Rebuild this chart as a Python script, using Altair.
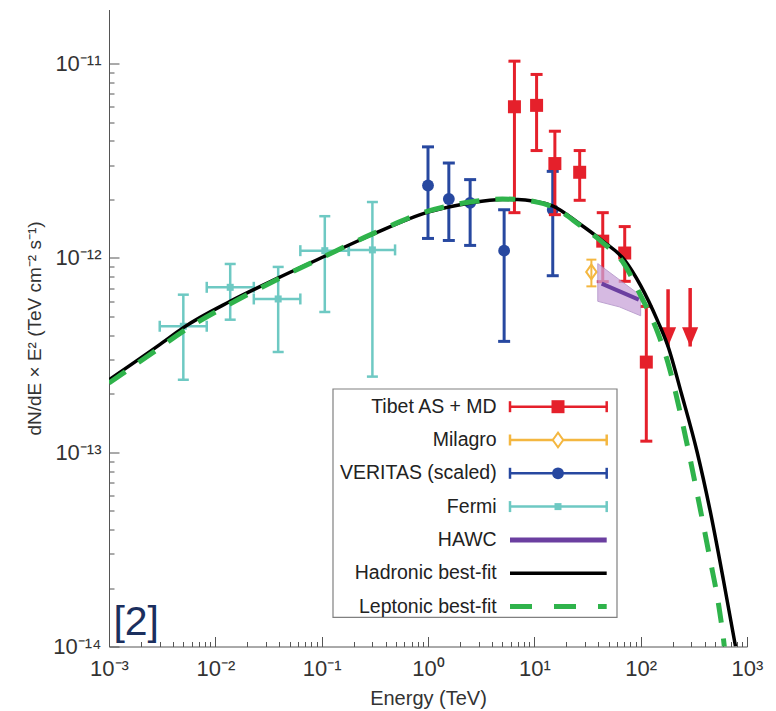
import altair as alt
import pandas as pd

FONT = "Liberation Sans"

# ---------------- data ----------------
fermi_E = [5.0e-3, 1.38e-2, 3.9e-2, 0.107, 0.30]
fermi_E_lo = [3.0e-3, 8.3e-3, 2.3e-2, 0.063, 0.18]
fermi_E_hi = [8.3e-3, 2.3e-2, 6.3e-2, 0.18, 0.49]
fermi_F = [4.45e-13, 7.06e-13, 6.15e-13, 1.09e-12, 1.10e-12]
fermi_F_lo = [2.36e-13, 4.81e-13, 3.28e-13, 5.27e-13, 2.45e-13]
fermi_F_hi = [6.47e-13, 9.31e-13, 8.99e-13, 1.64e-12, 1.94e-12]

veritas_E = [1.0, 1.57, 2.49, 5.2, 14.9]
veritas_F = [2.36e-12, 2.01e-12, 1.92e-12, 1.09e-12, 1.77e-12]
veritas_F_lo = [1.26e-12, 1.23e-12, 1.16e-12, 3.72e-13, 8.1e-13]
veritas_F_hi = [3.73e-12, 3.08e-12, 2.53e-12, 1.77e-12, 2.79e-12]

tibet_E = [6.5, 10.5, 15.6, 26.7, 44.0, 70.8, 113.0]
tibet_F = [6.0e-12, 6.1e-12, 3.06e-12, 2.76e-12, 1.22e-12, 1.06e-12, 2.91e-13]
tibet_F_lo = [1.71e-12, 3.57e-12, 1.67e-12, 1.98e-12, 7.55e-13, 7.58e-13, 1.14e-13]
tibet_F_hi = [1.03e-11, 8.8e-12, 4.49e-12, 3.57e-12, 1.71e-12, 1.45e-12, 5.63e-13]
tibet_ul_E = [181.0, 292.0]
tibet_ul_F = [6.9e-13, 7.0e-13]
tibet_ul_tip = [3.5e-13, 3.5e-13]

milagro_E = [34.4]
milagro_F = [8.47e-13]
milagro_F_lo = [7.14e-13]
milagro_F_hi = [9.8e-13]

hawc_line_E = [43.0, 96.0]
hawc_line_F = [7.38e-13, 6.1e-13]
hawc_band_E = [39.5, 63.0, 100.0]
hawc_band_hi = [9.35e-13, 7.73e-13, 6.4e-13]
hawc_band_lo = [5.98e-13, 5.6e-13, 5.04e-13]

hadronic_E = [1e-3, 3e-3, 5e-3, 1.38e-2, 3.9e-2, 0.107, 0.3, 1.0, 2.5, 5.0, 7.0, 10.0,
              15.0, 27.0, 44.0, 70.0, 100.0, 143.0, 181.0, 242.0, 340.0, 450.0, 600.0, 780.0]
hadronic_F = [2.36e-13, 3.58e-13, 4.38e-13, 5.98e-13, 7.89e-13, 1.02e-12, 1.32e-12, 1.72e-12,
              1.92e-12, 2.0e-12, 2.0e-12, 1.96e-12, 1.85e-12, 1.49e-12, 1.22e-12, 9.8e-13,
              7.2e-13, 4.8e-13, 3.5e-13, 2.0e-13, 1.0e-13, 5.0e-14, 2.2e-14, 1.0e-14]

leptonic_E = [1e-3, 3e-3, 5e-3, 1.38e-2, 3.9e-2, 0.107, 0.3, 1.0, 2.5, 5.0, 7.0, 10.0,
              15.0, 27.0, 44.0, 70.0, 100.0, 143.0, 180.0, 245.0, 300.0, 366.0, 450.0,
              540.0, 600.0, 640.0]
leptonic_F = [2.27e-13, 3.45e-13, 4.2e-13, 5.8e-13, 7.8e-13, 1.02e-12, 1.33e-12, 1.74e-12,
              1.94e-12, 2.01e-12, 2.0e-12, 1.95e-12, 1.83e-12, 1.47e-12, 1.2e-12, 9.3e-13,
              6.4e-13, 4.2e-13, 2.9e-13, 1.45e-13, 8.6e-14, 5.0e-14, 2.8e-14, 1.65e-14,
              1.1e-14, 8.0e-15]

x_tick_values = [1e-3, 1e-2, 1e-1, 1e0, 1e1, 1e2, 1e3]
x_tick_exps = [-3, -2, -1, 0, 1, 2, 3]
x_tick_labels = ["10⁻³", "10⁻²", "10⁻¹", "10⁰", "10¹", "10²", "10³"]
y_tick_values = [1e-14, 1e-13, 1e-12, 1e-11]
y_tick_exps = [-14, -13, -12, -11]
y_tick_labels = ["10⁻¹⁴", "10⁻¹³", "10⁻¹²", "10⁻¹¹"]
x_minor = [m * 10.0 ** k for k in range(-3, 3) for m in range(2, 10)]
y_minor = [m * 10.0 ** k for k in range(-14, -11) for m in range(2, 10)]

legend_labels = ["Tibet AS + MD", "Milagro", "VERITAS (scaled)", "Fermi", "HAWC",
                 "Hadronic best-fit", "Leptonic best-fit"]
annotation_text = ["[2]"]
annotation_E = [1.1e-3]
annotation_F = [1.15e-14]

# ---------------- styles ----------------
RED = "#e5202b"
ORANGE = "#f4b740"
BLUE = "#2748a0"
CYAN = "#6ec9c3"
PURPLE = "#6b3fa0"
GREEN = "#2fb34b"
BLACK = "#000000"
legend_colors = [RED, ORANGE, BLUE, CYAN, PURPLE, BLACK, GREEN]

W, H = 638, 637
xs = alt.Scale(type="log", domain=[1e-3, 1e3], nice=False)
ys = alt.Scale(type="log", domain=[1e-14, 1.9e-11], nice=False)


def X(f, axis=None):
    return alt.X(f, type="quantitative", scale=xs, axis=axis)


def Y(f, axis=None):
    return alt.Y(f, type="quantitative", scale=ys, axis=axis)


def label_expr(exps, labels):
    parts = [f"abs(log(datum.value)/LN10 - ({e})) < 0.01 ? '{l}'" for e, l in zip(exps, labels)]
    return " : ".join(parts) + " : ''"


fermi = pd.DataFrame(dict(E=fermi_E, Elo=fermi_E_lo, Ehi=fermi_E_hi, F=fermi_F,
                          Flo=fermi_F_lo, Fhi=fermi_F_hi))
veritas = pd.DataFrame(dict(E=veritas_E, F=veritas_F, Flo=veritas_F_lo, Fhi=veritas_F_hi))
tibet = pd.DataFrame(dict(E=tibet_E, F=tibet_F, Flo=tibet_F_lo, Fhi=tibet_F_hi))
tibet_ul = pd.DataFrame(dict(E=tibet_ul_E, F=tibet_ul_F, tip=tibet_ul_tip))
milagro = pd.DataFrame(dict(E=milagro_E, F=milagro_F, Flo=milagro_F_lo, Fhi=milagro_F_hi))
hawc_line = pd.DataFrame(dict(E=hawc_line_E, F=hawc_line_F))
hawc_band = pd.DataFrame(dict(E=hawc_band_E, hi=hawc_band_hi, lo=hawc_band_lo))
had = pd.DataFrame(dict(E=hadronic_E, F=hadronic_F))
lep = pd.DataFrame(dict(E=leptonic_E, F=leptonic_F))
ann = pd.DataFrame(dict(E=annotation_E, F=annotation_F, t=annotation_text))


def errbars(df, color, width, cap, marker):
    bar = alt.Chart(df).mark_rule(color=color, strokeWidth=width).encode(
        x=X("E"), y=Y("Flo"), y2="Fhi")
    caps = alt.Chart(df).transform_fold(["Flo", "Fhi"], as_=["k", "v"]).mark_tick(
        orient="horizontal", color=color, size=cap, thickness=width, opacity=1).encode(
        x=X("E"), y=Y("v"))
    pts = alt.Chart(df).mark_point(**marker).encode(x=X("E"), y=Y("F"))
    return [bar, caps, pts]


layers = []

# Fermi (with horizontal bars)
layers.append(alt.Chart(fermi).mark_rule(color=CYAN, strokeWidth=2.5).encode(
    x=X("Elo"), x2="Ehi", y=Y("F")))
layers.append(alt.Chart(fermi).transform_fold(["Elo", "Ehi"], as_=["k", "v"]).mark_tick(
    orient="vertical", color=CYAN, size=11, thickness=2.5, opacity=1).encode(
    x=X("v"), y=Y("F")))
layers += errbars(fermi, CYAN, 2.5, 11, dict(shape="square", filled=True, color=CYAN,
                                             size=49, opacity=1))
# VERITAS
layers += errbars(veritas, BLUE, 3, 12, dict(shape="circle", filled=True, color=BLUE,
                                            size=140, opacity=1))
# Tibet
layers += errbars(tibet, RED, 3, 12, dict(shape="square", filled=True, color=RED,
                                         size=169, opacity=1))
layers.append(alt.Chart(tibet_ul).mark_rule(color=RED, strokeWidth=3.5).encode(
    x=X("E"), y=Y("F"), y2="tip"))
layers.append(alt.Chart(tibet_ul).mark_point(
    shape="M-1,-2.4L1,-2.4L0,0Z", filled=True, color=RED, size=260, opacity=1).encode(
    x=X("E"), y=Y("tip")))
# Milagro
layers += errbars(milagro, ORANGE, 2, 10, dict(shape="M0,-1.2L0.85,0L0,1.2L-0.85,0Z",
                                              filled=False, color=ORANGE,
                                              size=150, strokeWidth=2, opacity=1))
# HAWC
layers.append(alt.Chart(hawc_band).mark_area(
    color="#c9a3d9", opacity=0.75, stroke="#a783c0", strokeWidth=1).encode(
    x=X("E"), y=Y("hi"), y2="lo"))
layers.append(alt.Chart(hawc_line).mark_line(color=PURPLE, strokeWidth=4).encode(
    x=X("E"), y=Y("F")))
# models
layers.append(alt.Chart(had).mark_line(color=BLACK, strokeWidth=3.5, interpolate="monotone",
                                       clip=True).encode(x=X("E"), y=Y("F")))
layers.append(alt.Chart(lep).mark_line(color=GREEN, strokeWidth=5, strokeDash=[20, 16],
                                       interpolate="monotone", clip=True).encode(
    x=X("E"), y=Y("F")))

# annotation
layers.append(alt.Chart(ann).mark_text(align="left", baseline="alphabetic", fontSize=41,
                                       font=FONT, color="#1b2f5e").encode(
    x=X("E"), y=Y("F"), text="t:N"))

# main axes (labels + domain line)
ax_x = alt.Axis(orient="bottom", values=x_tick_values,
                labelExpr=label_expr(x_tick_exps, x_tick_labels),
                ticks=False, tickSize=0, grid=False, domain=True, domainColor="#555",
                labelFont=FONT, labelFontSize=22, labelColor="#333", labelPadding=12,
                title="Energy (TeV)", titleFont=FONT, titleFontSize=20,
                titleFontWeight="normal", titleColor="#333", titlePadding=9,
                labelFlush=False)
ax_y = alt.Axis(orient="left", values=y_tick_values,
                labelExpr=label_expr(y_tick_exps, y_tick_labels),
                ticks=False, tickSize=0, grid=False, domain=True, domainColor="#555",
                labelFont=FONT, labelFontSize=22, labelColor="#333", labelPadding=8,
                title="dN/dE × E² (TeV cm⁻² s⁻¹)", titleFont=FONT, titleFontSize=19,
                titleFontWeight="normal", titleColor="#333", titlePadding=8,
                labelFlush=False)
layers.append(alt.Chart(had).mark_line(strokeOpacity=0).encode(
    x=X("E", ax_x), y=Y("F", ax_y)))


def tick_axis(orient, values, size):
    return alt.Axis(orient=orient, values=values, labels=False, domain=False, grid=False,
                    ticks=True, tickSize=size, offset=-size, tickColor="#555",
                    tickWidth=1, title=None)


layers.append(alt.Chart(had).mark_line(strokeOpacity=0).encode(
    x=X("E", tick_axis("bottom", x_tick_values, 10)),
    y=Y("F", tick_axis("left", y_tick_values, 10))))
layers.append(alt.Chart(had).mark_line(strokeOpacity=0).encode(
    x=X("E", tick_axis("bottom", x_minor, 5)),
    y=Y("F", tick_axis("left", y_minor, 5))))

# ---------------- legend (pixel layout) ----------------
LEG_X0, LEG_X1, LEG_Y0, LEG_Y1 = 224, 508, 379.5, 607.8
ROW0, STEP = 397.2, 33.3
TXT_X, S_X0, S_X1, MK_X = 387.7, 401, 497.7, 449

leg = pd.DataFrame(dict(label=legend_labels, color=legend_colors,
                        i=list(range(len(legend_labels)))))
leg["ly"] = ROW0 + leg["i"] * STEP
LY = alt.Y("ly:Q", scale=None, axis=None)
CS = alt.Color("color:N", scale=None)
one = pd.DataFrame({"a": [0]})

layers.append(alt.Chart(one).mark_rect(fill="white", stroke="#808080", strokeWidth=1.2).encode(
    x=alt.value(LEG_X0), x2=alt.value(LEG_X1), y=alt.value(LEG_Y0), y2=alt.value(LEG_Y1)))
layers.append(alt.Chart(leg).mark_text(align="right", baseline="middle", fontSize=19.5,
                                       font=FONT, color="#222").encode(
    x=alt.value(TXT_X), y=LY, text="label:N"))
eb = leg[leg.i < 4]
layers.append(alt.Chart(eb).mark_rule(strokeWidth=2.5).encode(
    x=alt.value(S_X0), x2=alt.value(S_X1), y=LY, color=CS))
for xv in (S_X0, S_X1):
    layers.append(alt.Chart(eb).mark_tick(orient="vertical", size=11, thickness=2.5,
                                          opacity=1).encode(x=alt.value(xv), y=LY, color=CS))
markers = [dict(shape="square", filled=True, size=169),
           dict(shape="M0,-1.2L0.85,0L0,1.2L-0.85,0Z", filled=False, size=150,
                strokeWidth=2, fill="white"),
           dict(shape="circle", filled=True, size=140),
           dict(shape="square", filled=True, size=49)]
for k, mk in enumerate(markers):
    layers.append(alt.Chart(leg[leg.i == k]).mark_point(opacity=1, **mk).encode(
        x=alt.value(MK_X), y=LY, color=CS))
layers.append(alt.Chart(leg[leg.i == 4]).mark_rule(strokeWidth=5).encode(
    x=alt.value(S_X0), x2=alt.value(S_X1), y=LY, color=CS))
layers.append(alt.Chart(leg[leg.i == 5]).mark_rule(strokeWidth=3.5).encode(
    x=alt.value(S_X0), x2=alt.value(S_X1), y=LY, color=CS))
layers.append(alt.Chart(leg[leg.i == 6]).mark_rule(strokeWidth=5, strokeDash=[22, 22]).encode(
    x=alt.value(S_X0), x2=alt.value(S_X1), y=LY, color=CS))

chart = alt.layer(*layers).resolve_axis(x="independent", y="independent").properties(
    width=W, height=H,
    autosize=alt.AutoSizeParams(type="none"),
    padding={"left": 109, "top": 9.5, "right": 29, "bottom": 64.5},
    background="white",
).configure_view(stroke=None)

chart.save("out.html", embed_options={"renderer": "svg", "actions": False})
